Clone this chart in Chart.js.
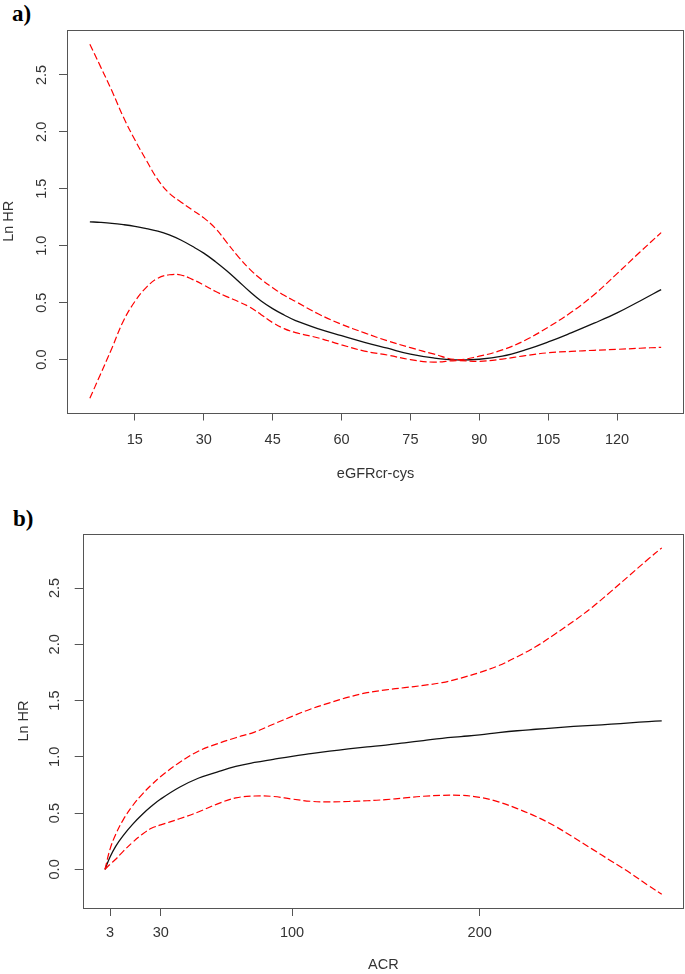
<!DOCTYPE html>
<html>
<head>
<meta charset="utf-8">
<script src="https://cdn.jsdelivr.net/npm/chart.js@4/dist/chart.umd.min.js"></script>
<style>
  html, body { margin: 0; padding: 0; background: #fff; }
  body { width: 685px; height: 974px; position: relative; overflow: hidden; }
  canvas { position: absolute; left: 0; }
  #chartA { top: 0; }
  #chartB { top: 487px; }
  .tag { position: absolute; font: bold 23px "Liberation Serif", "Times New Roman", serif; line-height: 23px; color: #000; }
</style>
</head>
<body>
<div class="tag" style="left:12px; top:2px">a)</div>
<div class="tag" style="left:13px; top:507px">b)</div>
<canvas id="chartA" width="685" height="487"></canvas>
<canvas id="chartB" width="685" height="487"></canvas>
<script>
// panel a: eGFRcr-cys
const egfrX = [5.2, 7.5, 10, 12.5, 15, 17.5, 20, 22.5, 25, 27.5, 30, 32.5, 35, 37.5, 40, 42.5, 45, 47.5,
  50, 55, 60, 65, 70, 75, 80, 85, 90, 95, 100, 105, 110, 115, 120, 125, 129.6];
const egfrFit = [1.21, 1.205, 1.197, 1.185, 1.17, 1.15, 1.128, 1.095, 1.05, 0.995, 0.935, 0.862, 0.78, 0.69, 0.598, 0.515, 0.448, 0.392,
  0.342, 0.27, 0.21, 0.152, 0.10, 0.048, 0.015, -0.003, 0.003, 0.03, 0.085, 0.155, 0.235, 0.32, 0.41, 0.515, 0.615];
const egfrUpper = [2.77, 2.575, 2.36, 2.13, 1.93, 1.75, 1.58, 1.46, 1.385, 1.315, 1.245, 1.155, 1.03, 0.905, 0.795, 0.705, 0.632, 0.565,
  0.51, 0.40, 0.31, 0.235, 0.165, 0.105, 0.05, 0.0, 0.03, 0.085, 0.17, 0.285, 0.415, 0.57, 0.755, 0.945, 1.115];
const egfrLower = [-0.34, -0.13, 0.10, 0.34, 0.51, 0.635, 0.715, 0.745, 0.743, 0.705, 0.655, 0.60, 0.553, 0.51, 0.462, 0.395, 0.325, 0.272,
  0.237, 0.19, 0.13, 0.075, 0.04, 0.0, -0.022, -0.008, -0.015, 0.005, 0.035, 0.06, 0.072, 0.082, 0.09, 0.10, 0.108];
const egfrTicks = [15, 30, 45, 60, 75, 90, 105, 120];

// panel b: ACR
const acrX = [0.3, 3, 6, 10, 15, 20, 25, 30, 40, 50, 60, 70, 80, 90, 100, 110, 120, 130, 140, 150,
  160, 170, 180, 190, 200, 210, 220, 230, 240, 250, 260, 270, 280, 290, 297];
const acrFit = [0, 0.11, 0.205, 0.30, 0.40, 0.485, 0.56, 0.625, 0.73, 0.81, 0.865, 0.915, 0.95, 0.978, 1.005, 1.028, 1.05, 1.07, 1.088, 1.105,
  1.125, 1.145, 1.165, 1.18, 1.195, 1.215, 1.232, 1.245, 1.258, 1.27, 1.28, 1.29, 1.302, 1.313, 1.32];
const acrUpper = [0, 0.18, 0.31, 0.44, 0.565, 0.665, 0.75, 0.825, 0.95, 1.05, 1.115, 1.17, 1.22, 1.29, 1.36, 1.425, 1.48, 1.53, 1.57, 1.595,
  1.615, 1.635, 1.66, 1.70, 1.75, 1.81, 1.89, 1.98, 2.09, 2.205, 2.33, 2.47, 2.615, 2.76, 2.857];
const acrLower = [0, 0.045, 0.09, 0.16, 0.24, 0.31, 0.365, 0.395, 0.45, 0.51, 0.58, 0.635, 0.652, 0.648, 0.625, 0.605, 0.60, 0.603, 0.61, 0.62,
  0.635, 0.65, 0.658, 0.658, 0.64, 0.60, 0.54, 0.47, 0.385, 0.285, 0.18, 0.075, -0.03, -0.145, -0.22];
const acrTicks = [3, 30, 100, 200];

const lnHrTicks = [0, 0.5, 1, 1.5, 2, 2.5];

const FONT = '"Liberation Sans", Arial, sans-serif';
const TEXT = "#333";
const AXIS = "#555";

// R pads the data range by 4% on each side
function rRange(values) {
  const lo = Math.min(...values), hi = Math.max(...values);
  const pad = (hi - lo) * 0.04;
  return [lo - pad, hi + pad];
}

const boxPlugin = {
  id: "rBox",
  afterDraw(chart) {
    const { ctx, chartArea: a } = chart;
    ctx.save();
    ctx.strokeStyle = AXIS;
    ctx.lineWidth = 1;
    ctx.strokeRect(Math.round(a.left) + 0.5, Math.round(a.top) + 0.5,
      Math.round(a.right - a.left) - 1, Math.round(a.bottom - a.top));
    ctx.restore();
  },
};

function pairs(xs, ys) {
  return xs.map((x, i) => ({ x, y: ys[i] }));
}

function makePanel(id, p) {
  const [xMin, xMax] = rRange(p.x);
  const [yMin, yMax] = rRange(p.fit.concat(p.upper, p.lower));
  const tickGrid = { drawOnChartArea: false, drawTicks: true, tickLength: 8, color: AXIS, tickColor: AXIS };
  const red = { borderColor: "#ff0000", borderWidth: 1.2, borderDash: [7, 3] };

  new Chart(document.getElementById(id), {
    type: "line",
    data: {
      datasets: [
        { data: pairs(p.x, p.upper), ...red },
        { data: pairs(p.x, p.lower), ...red },
        { data: pairs(p.x, p.fit), borderColor: "#111", borderWidth: 1.3 },
      ],
    },
    options: {
      responsive: false,
      animation: false,
      devicePixelRatio: 1,
      layout: { padding: { left: p.padLeft, top: p.padTop, right: 1, bottom: 0 } },
      elements: { point: { radius: 0 }, line: { tension: 0.4, fill: false } },
      plugins: { legend: { display: false }, tooltip: { enabled: false } },
      scales: {
        x: {
          type: "linear",
          min: xMin,
          max: xMax,
          afterBuildTicks: (s) => { s.ticks = p.xTicks.map((v) => ({ value: v })); },
          afterFit: (s) => { s.height = p.xHeight; },
          grid: tickGrid,
          border: { display: false },
          ticks: { color: TEXT, font: { family: FONT, size: 14.5 }, padding: p.xTickPad, autoSkip: false, maxRotation: 0, callback: (v) => String(v) },
          title: { display: true, text: p.xTitle, color: TEXT, font: { family: FONT, size: 14.5 }, padding: { top: 0, bottom: p.xTitlePad } },
        },
        y: {
          type: "linear",
          min: yMin,
          max: yMax,
          afterBuildTicks: (s) => { s.ticks = lnHrTicks.map((v) => ({ value: v })); },
          afterFit: (s) => { s.width = p.yWidth; },
          grid: tickGrid,
          border: { display: false },
          ticks: { color: TEXT, font: { family: FONT, size: 14.5 }, padding: p.yTickPad, autoSkip: false, minRotation: 90, maxRotation: 90, crossAlign: "center", callback: (v) => v.toFixed(1) },
          title: { display: true, text: "Ln HR", color: TEXT, font: { family: FONT, size: 14.5 }, padding: 0 },
        },
      },
    },
    plugins: [boxPlugin],
  });
}

makePanel("chartA", {
  x: egfrX, fit: egfrFit, upper: egfrUpper, lower: egfrLower, xTicks: egfrTicks, xTitle: "eGFRcr-cys",
  padLeft: 0, padTop: 30, yWidth: 67, xHeight: 74.5, xTickPad: 10.8, xTitlePad: 4, yTickPad: 7,
});

makePanel("chartB", {
  x: acrX, fit: acrFit, upper: acrUpper, lower: acrLower, xTicks: acrTicks, xTitle: "ACR",
  padLeft: 15.3, padTop: 47, yWidth: 67.4, xHeight: 66, xTickPad: 8.3, xTitlePad: 0.3, yTickPad: 9.6,
});
</script>
</body>
</html>
